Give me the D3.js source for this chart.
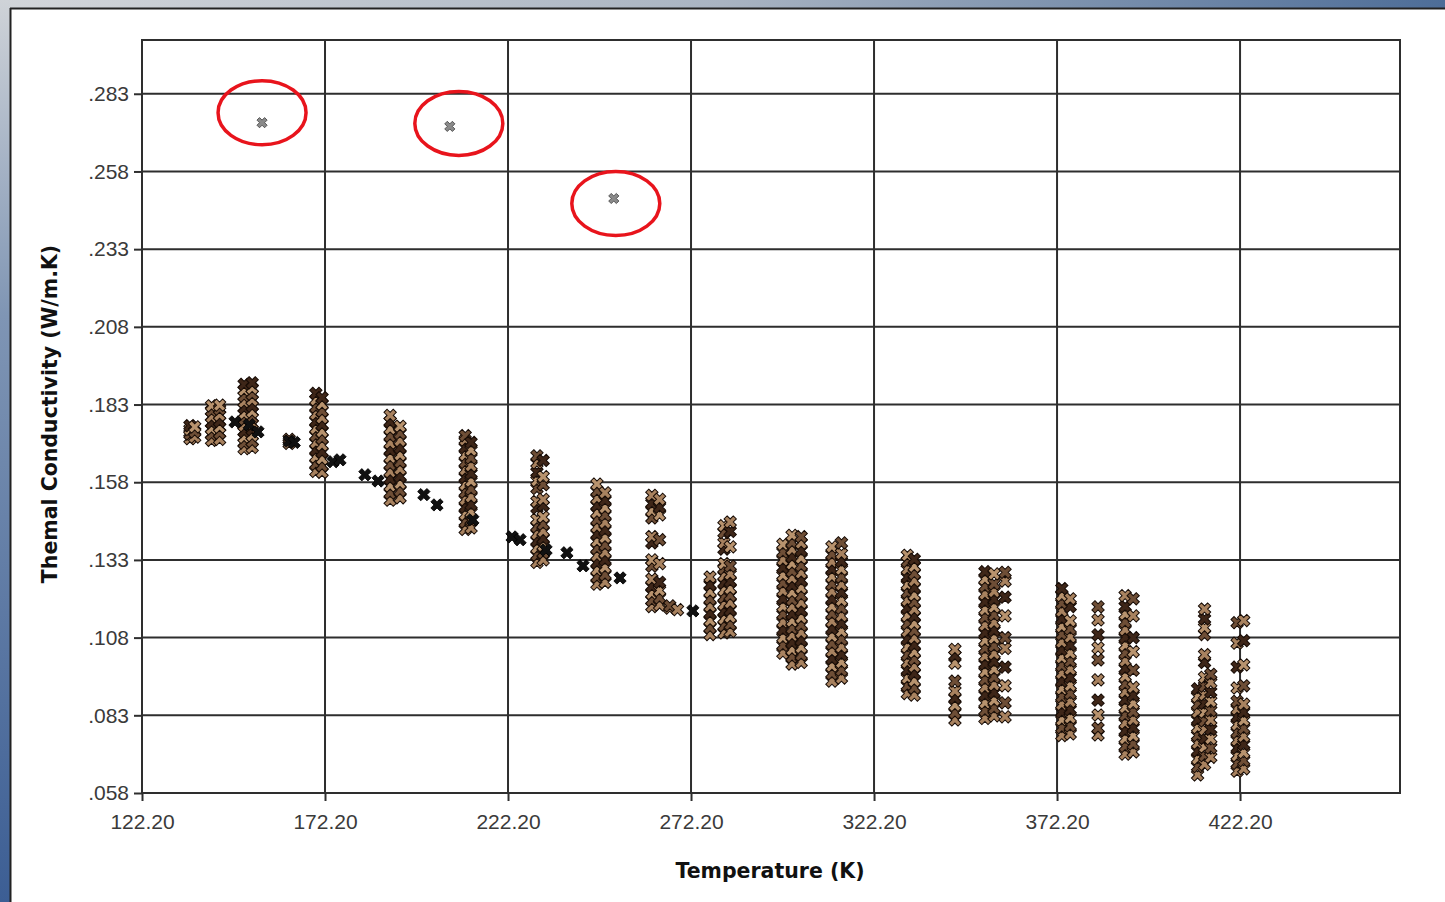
<!DOCTYPE html>
<html>
<head>
<meta charset="utf-8">
<script src="https://cdn.jsdelivr.net/npm/d3@7"></script>
<style>
  html, body { margin: 0; padding: 0; background: #fff; }
  svg { display: block; }
</style>
</head>
<body>
<svg id="chart" width="1445" height="902"></svg>
<script>
// Axis ticks
const xTicks = [122.2, 172.2, 222.2, 272.2, 322.2, 372.2, 422.2];
const yTicks = [0.058, 0.083, 0.108, 0.133, 0.158, 0.183, 0.208, 0.233, 0.258, 0.283];

// Measured runs: one temperature per column, the conductivities measured at it
const brownTemps = [135.3, 136.6, 141.2, 143.4, 150.1, 152.3, 162.4, 169.7, 171.4, 190.0,
  192.7, 210.5, 212.1, 230.1, 231.8, 246.5, 248.7, 261.5, 263.6, 266.4,
  268.5, 277.4, 281.2, 282.9, 297.3, 299.8, 302.3, 310.7, 313.3, 331.3,
  333.2, 344.3, 352.5, 355.0, 358.0, 373.5, 375.8, 383.4, 390.8, 393.0,
  410.6, 412.5, 414.2, 421.4, 423.2];
const brownConds = [
  [0.1720, 0.1735, 0.1750, 0.1762],
  [0.1725, 0.1742, 0.1758],
  [0.1715, 0.1733, 0.1752, 0.1771, 0.1790, 0.1810, 0.1826],
  [0.1718, 0.1738, 0.1757, 0.1776, 0.1796, 0.1815, 0.1828],
  [0.1688, 0.1706, 0.1724, 0.1743, 0.1762, 0.1781, 0.1800, 0.1819, 0.1838, 0.1857, 0.1876, 0.1895],
  [0.1692, 0.1711, 0.1730, 0.1749, 0.1768, 0.1787, 0.1806, 0.1825, 0.1844, 0.1863, 0.1882, 0.1900],
  [0.1705, 0.1718],
  [0.1615, 0.1638, 0.1661, 0.1684, 0.1707, 0.1730, 0.1753, 0.1776, 0.1799, 0.1822, 0.1845, 0.1866],
  [0.1612, 0.1633, 0.1655, 0.1677, 0.1699, 0.1721, 0.1743, 0.1765, 0.1787, 0.1809, 0.1831, 0.1852],
  [0.1522, 0.1545, 0.1568, 0.1591, 0.1614, 0.1637, 0.1660, 0.1683, 0.1706, 0.1729, 0.1752, 0.1775, 0.1795],
  [0.1530, 0.1553, 0.1576, 0.1599, 0.1622, 0.1645, 0.1668, 0.1691, 0.1714, 0.1737, 0.1760],
  [0.1428, 0.1452, 0.1476, 0.1500, 0.1524, 0.1548, 0.1572, 0.1596, 0.1620, 0.1644, 0.1668, 0.1692, 0.1716, 0.1730],
  [0.1433, 0.1458, 0.1483, 0.1508, 0.1533, 0.1558, 0.1583, 0.1608, 0.1633, 0.1658, 0.1683, 0.1708],
  [0.1322, 0.1345, 0.1368, 0.1391, 0.1414, 0.1437, 0.1460, 0.1497, 0.1518, 0.1560, 0.1585, 0.1612, 0.1642, 0.1665],
  [0.1330, 0.1353, 0.1376, 0.1399, 0.1422, 0.1445, 0.1468, 0.1505, 0.1525, 0.1572, 0.1598, 0.1650],
  [0.1252, 0.1275, 0.1298, 0.1321, 0.1344, 0.1367, 0.1390, 0.1413, 0.1436, 0.1459, 0.1482, 0.1505, 0.1528, 0.1551, 0.1574],
  [0.1258, 0.1282, 0.1306, 0.1330, 0.1354, 0.1378, 0.1402, 0.1426, 0.1450, 0.1474, 0.1498, 0.1522, 0.1546],
  [0.1180, 0.1200, 0.1222, 0.1245, 0.1268, 0.1310, 0.1330, 0.1385, 0.1405, 0.1465, 0.1488, 0.1512, 0.1538],
  [0.1185, 0.1208, 0.1232, 0.1258, 0.1318, 0.1395, 0.1475, 0.1500, 0.1525],
  [0.1175, 0.1182],
  [0.1170],
  [0.1090, 0.1112, 0.1135, 0.1158, 0.1181, 0.1204, 0.1227, 0.1250, 0.1275],
  [0.1095, 0.1118, 0.1141, 0.1164, 0.1187, 0.1210, 0.1233, 0.1256, 0.1279, 0.1302, 0.1318, 0.1365, 0.1385, 0.1418, 0.1440],
  [0.1100, 0.1123, 0.1146, 0.1169, 0.1192, 0.1215, 0.1238, 0.1261, 0.1284, 0.1310, 0.1372, 0.1422, 0.1452],
  [0.1030, 0.1055, 0.1080, 0.1105, 0.1130, 0.1155, 0.1180, 0.1205, 0.1230, 0.1255, 0.1280, 0.1305, 0.1330, 0.1355, 0.1380],
  [0.0995, 0.1018, 0.1041, 0.1064, 0.1087, 0.1110, 0.1133, 0.1156, 0.1179, 0.1202, 0.1225, 0.1248, 0.1271, 0.1294, 0.1317, 0.1340, 0.1363, 0.1386, 0.1409],
  [0.1000, 0.1024, 0.1048, 0.1072, 0.1096, 0.1120, 0.1144, 0.1168, 0.1192, 0.1216, 0.1240, 0.1264, 0.1288, 0.1312, 0.1336, 0.1360, 0.1384, 0.1405],
  [0.0940, 0.0964, 0.0988, 0.1012, 0.1036, 0.1060, 0.1084, 0.1108, 0.1132, 0.1156, 0.1180, 0.1204, 0.1228, 0.1252, 0.1276, 0.1300, 0.1324, 0.1348, 0.1372],
  [0.0950, 0.0975, 0.1000, 0.1025, 0.1050, 0.1075, 0.1100, 0.1125, 0.1150, 0.1175, 0.1200, 0.1225, 0.1250, 0.1275, 0.1300, 0.1325, 0.1350, 0.1385],
  [0.0900, 0.0925, 0.0950, 0.0975, 0.1000, 0.1025, 0.1050, 0.1075, 0.1100, 0.1125, 0.1150, 0.1175, 0.1200, 0.1225, 0.1250, 0.1275, 0.1300, 0.1325, 0.1345],
  [0.0895, 0.0918, 0.0941, 0.0964, 0.0987, 0.1010, 0.1033, 0.1056, 0.1079, 0.1102, 0.1125, 0.1148, 0.1171, 0.1194, 0.1217, 0.1240, 0.1263, 0.1286, 0.1309, 0.1332],
  [0.0815, 0.0838, 0.0862, 0.0885, 0.0908, 0.0940, 0.0998, 0.1022, 0.1042],
  [0.0820, 0.0845, 0.0870, 0.0895, 0.0920, 0.0945, 0.0970, 0.0995, 0.1020, 0.1045, 0.1070, 0.1095, 0.1120, 0.1145, 0.1170, 0.1195, 0.1220, 0.1245, 0.1268, 0.1292],
  [0.0828, 0.0853, 0.0878, 0.0903, 0.0928, 0.0953, 0.0978, 0.1003, 0.1028, 0.1053, 0.1078, 0.1103, 0.1128, 0.1153, 0.1178, 0.1203, 0.1228, 0.1253, 0.1285],
  [0.0825, 0.0870, 0.0925, 0.0985, 0.1045, 0.1080, 0.1150, 0.1210, 0.1262, 0.1290],
  [0.0765, 0.0790, 0.0815, 0.0840, 0.0865, 0.0890, 0.0915, 0.0940, 0.0965, 0.0990, 0.1015, 0.1040, 0.1065, 0.1090, 0.1115, 0.1140, 0.1165, 0.1190, 0.1215, 0.1238],
  [0.0770, 0.0796, 0.0822, 0.0848, 0.0874, 0.0900, 0.0926, 0.0952, 0.0978, 0.1004, 0.1030, 0.1056, 0.1082, 0.1108, 0.1134, 0.1180, 0.1205],
  [0.0767, 0.0789, 0.0831, 0.0879, 0.0944, 0.1008, 0.1047, 0.1089, 0.1137, 0.1179],
  [0.0705, 0.0730, 0.0755, 0.0780, 0.0805, 0.0830, 0.0855, 0.0880, 0.0905, 0.0930, 0.0955, 0.0980, 0.1005, 0.1030, 0.1055, 0.1080, 0.1105, 0.1130, 0.1155, 0.1180, 0.1215],
  [0.0712, 0.0738, 0.0764, 0.0790, 0.0816, 0.0842, 0.0868, 0.0894, 0.0920, 0.0975, 0.1035, 0.1080, 0.1150, 0.1205],
  [0.0638, 0.0665, 0.0690, 0.0715, 0.0740, 0.0765, 0.0790, 0.0815, 0.0840, 0.0865, 0.0890, 0.0915],
  [0.0672, 0.0700, 0.0728, 0.0756, 0.0784, 0.0812, 0.0840, 0.0868, 0.0896, 0.0924, 0.0952, 0.1000, 0.1025, 0.1090, 0.1112, 0.1140, 0.1172],
  [0.0695, 0.0725, 0.0755, 0.0785, 0.0815, 0.0845, 0.0875, 0.0905, 0.0935, 0.0962],
  [0.0650, 0.0675, 0.0700, 0.0725, 0.0750, 0.0775, 0.0800, 0.0825, 0.0850, 0.0875, 0.0918, 0.0985, 0.1062, 0.1128],
  [0.0658, 0.0684, 0.0710, 0.0736, 0.0762, 0.0788, 0.0814, 0.0840, 0.0866, 0.0925, 0.0992, 0.1070, 0.1135]
];

// Single readings drawn in black
const blackTemps = [147.6, 151.5, 153.9, 162.4, 163.8, 174.4, 176.3, 183.1, 186.7, 199.2,
  202.8, 212.6, 223.3, 225.5, 232.6, 238.3, 242.7, 252.8, 272.7];
const blackConds = [0.1774, 0.1765, 0.1742, 0.1712, 0.1708, 0.1646, 0.1652, 0.1604, 0.1584, 0.1540,
  0.1507, 0.1459, 0.1404, 0.1395, 0.1362, 0.1353, 0.1311, 0.1272, 0.1166];

// Suspect readings, each ringed in red
const outlierTemps = [155.0, 206.3, 251.1];
const outlierConds = [0.2737, 0.2725, 0.2493];

const svg = d3.select("#chart");
const W = 1445, H = 902;

// Window frame
const defs = svg.append("defs");
const gTop = defs.append("linearGradient").attr("id", "frameTop").attr("x1", 0).attr("x2", 1).attr("y1", 0).attr("y2", 0);
gTop.append("stop").attr("offset", 0).attr("stop-color", "#d3d6da");
gTop.append("stop").attr("offset", 0.5).attr("stop-color", "#a9b4c2");
gTop.append("stop").attr("offset", 1).attr("stop-color", "#4d6d98");
const gLeft = defs.append("linearGradient").attr("id", "frameLeft").attr("x1", 0).attr("x2", 0).attr("y1", 0).attr("y2", 1);
gLeft.append("stop").attr("offset", 0).attr("stop-color", "#cfd3d8");
gLeft.append("stop").attr("offset", 0.35).attr("stop-color", "#7f95b4");
gLeft.append("stop").attr("offset", 1).attr("stop-color", "#3c5e94");

svg.append("rect").attr("x", 0).attr("y", 0).attr("width", W).attr("height", H).attr("fill", "#fff");
svg.append("rect").attr("x", 0).attr("y", 0).attr("width", W).attr("height", 8).attr("fill", "url(#frameTop)");
svg.append("rect").attr("x", 0).attr("y", 0).attr("width", 10).attr("height", H).attr("fill", "url(#frameLeft)");
svg.append("line").attr("x1", 10).attr("x2", W).attr("y1", 8.5).attr("y2", 8.5).attr("stroke", "#222").attr("stroke-width", 2);
svg.append("line").attr("x1", 10.5).attr("x2", 10.5).attr("y1", 8).attr("y2", H).attr("stroke", "#222").attr("stroke-width", 2);

// Plot area
const plotL = 142, plotR = 1400, plotT = 40, plotB = 793;
const x = d3.scaleLinear().domain([122.2, 465.9]).range([plotL, plotR]);
const y = d3.scaleLinear().domain([0.058, 0.3003]).range([plotB, plotT]);

const gridColor = "#2e2e2e";
const grid = svg.append("g");
grid.selectAll("line.v").data(xTicks).join("line")
  .attr("x1", d => x(d)).attr("x2", d => x(d)).attr("y1", plotT).attr("y2", plotB)
  .attr("stroke", gridColor).attr("stroke-width", 2);
grid.selectAll("line.h").data(yTicks).join("line")
  .attr("x1", plotL).attr("x2", plotR).attr("y1", d => y(d)).attr("y2", d => y(d))
  .attr("stroke", gridColor).attr("stroke-width", 2);
grid.append("rect").attr("x", plotL).attr("y", plotT).attr("width", plotR - plotL).attr("height", plotB - plotT)
  .attr("fill", "none").attr("stroke", gridColor).attr("stroke-width", 2);

// Axes
const xAxis = d3.axisBottom(x).tickValues(xTicks).tickFormat(d => d.toFixed(2)).tickSize(8).tickPadding(13);
const yAxis = d3.axisLeft(y).tickValues(yTicks).tickFormat(d => d.toFixed(3).replace(/^0/, "")).tickSize(8).tickPadding(5);

const gx = svg.append("g").attr("transform", `translate(0,${plotB})`).call(xAxis);
const gy = svg.append("g").attr("transform", `translate(${plotL},0)`).call(yAxis);
[gx, gy].forEach(g => {
  g.select(".domain").remove();
  g.selectAll(".tick line").attr("stroke", gridColor).attr("stroke-width", 2);
  g.selectAll(".tick text").attr("fill", "#3a3a3a")
    .style("font-family", "'Liberation Sans', Arial, sans-serif").style("font-size", "21px");
});

const titleFont = "'DejaVu Sans', Verdana, sans-serif";
svg.append("text").attr("x", 770).attr("y", 878).attr("text-anchor", "middle")
  .style("font-family", titleFont).style("font-size", "20.5px").style("font-weight", "bold")
  .attr("fill", "#111").text("Temperature (K)");
svg.append("text").attr("transform", "translate(57,414) rotate(-90)").attr("text-anchor", "middle")
  .style("font-family", titleFont).style("font-size", "20.5px").style("font-weight", "bold")
  .attr("fill", "#111").text("Themal Conductivity (W/m.K)");

// Markers: X shaped
const xMark = d3.symbol(d3.symbolCross, 95)();
const xMarkSmall = d3.symbol(d3.symbolCross, 65)();

const brownPts = [];
brownTemps.forEach((t, i) => brownConds[i].forEach((k, j) => brownPts.push({ t, k, j })));
const brownFills = ["#a8825f", "#6e4e36", "#b8936e", "#3e2618"];

svg.append("g").selectAll("path").data(brownPts).join("path")
  .attr("d", xMark)
  .attr("transform", d => `translate(${x(d.t)},${y(d.k)}) rotate(45)`)
  .attr("fill", d => brownFills[d.j % brownFills.length])
  .attr("stroke", "#160b05").attr("stroke-width", 1);

const blackPts = blackTemps.map((t, i) => ({ t, k: blackConds[i] }));
svg.append("g").selectAll("path").data(blackPts).join("path")
  .attr("d", xMark)
  .attr("transform", d => `translate(${x(d.t)},${y(d.k)}) rotate(45)`)
  .attr("fill", "#111").attr("stroke", "#000").attr("stroke-width", 0.8);

const outPts = outlierTemps.map((t, i) => ({ t, k: outlierConds[i] }));
const ringOffsets = [[0, -10], [9, -3], [2, 5]];
svg.append("g").selectAll("path").data(outPts).join("path")
  .attr("d", xMarkSmall)
  .attr("transform", d => `translate(${x(d.t)},${y(d.k)}) rotate(45)`)
  .attr("fill", "#8a8a8a").attr("stroke", "#444").attr("stroke-width", 0.8);
svg.append("g").selectAll("ellipse").data(outPts).join("ellipse")
  .attr("cx", (d, i) => x(d.t) + ringOffsets[i][0])
  .attr("cy", (d, i) => y(d.k) + ringOffsets[i][1])
  .attr("rx", 44).attr("ry", 32)
  .attr("fill", "none").attr("stroke", "#e8141c").attr("stroke-width", 3.5);
</script>
</body>
</html>
